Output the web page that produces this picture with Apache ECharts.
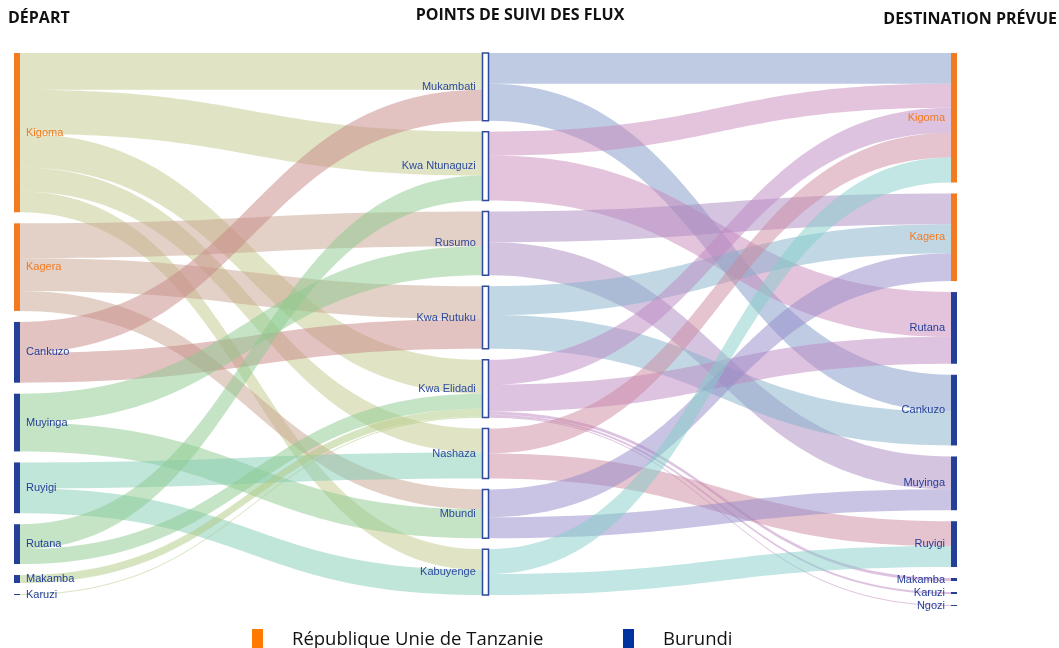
<!DOCTYPE html>
<html><head><meta charset="utf-8">
<script src="https://cdn.jsdelivr.net/npm/echarts@6/dist/echarts.min.js"></script>
<style>html,body{margin:0;padding:0;background:#fff}#c{width:1059px;height:648px}</style>
</head><body><div id="c"></div>
<script>
// ---- data ----
const departNames   = ['Kigoma','Kagera','Cankuzo','Muyinga','Ruyigi','Rutana','Makamba','Karuzi'];
const departCountry = ['TZ','TZ','BI','BI','BI','BI','BI','BI'];
const pointNames    = ['Mukambati','Kwa Ntunaguzi','Rusumo','Kwa Rutuku','Kwa Elidadi','Nashaza','Mbundi','Kabuyenge'];
const destNames     = ['Kigoma','Kagera','Rutana','Cankuzo','Muyinga','Ruyigi','Makamba','Karuzi','Ngozi'];
const destCountry   = ['TZ','TZ','BI','BI','BI','BI','BI','BI','BI'];

const departToPoint = [
  ['Kigoma','Mukambati',37],['Kigoma','Kwa Ntunaguzi',44],['Kigoma','Kwa Elidadi',34],['Kigoma','Nashaza',24],['Kigoma','Kabuyenge',21],
  ['Kagera','Rusumo',35],['Kagera','Kwa Rutuku',33],['Kagera','Mbundi',20],
  ['Cankuzo','Mukambati',31],['Cankuzo','Kwa Rutuku',30],
  ['Muyinga','Rusumo',29],['Muyinga','Mbundi',29],
  ['Ruyigi','Nashaza',26],['Ruyigi','Kabuyenge',25],
  ['Rutana','Kwa Ntunaguzi',25],['Rutana','Kwa Elidadi',15],
  ['Makamba','Kwa Elidadi',8],
  ['Karuzi','Kwa Elidadi',1]
];
const pointToDest = [
  ['Mukambati','Kigoma',31],['Mukambati','Cankuzo',37],
  ['Kwa Ntunaguzi','Kigoma',24],['Kwa Ntunaguzi','Rutana',45],
  ['Rusumo','Kagera',31],['Rusumo','Muyinga',33],
  ['Kwa Rutuku','Kagera',29],['Kwa Rutuku','Cankuzo',34],
  ['Kwa Elidadi','Kigoma',25],['Kwa Elidadi','Rutana',27],['Kwa Elidadi','Makamba',3],['Kwa Elidadi','Karuzi',2],['Kwa Elidadi','Ngozi',1],
  ['Nashaza','Kigoma',25],['Nashaza','Ruyigi',25],
  ['Mbundi','Kagera',28],['Mbundi','Muyinga',21],
  ['Kabuyenge','Kigoma',25],['Kabuyenge','Ruyigi',21]
];
const columnTitles = ['DÉPART','POINTS DE SUIVI DES FLUX','DESTINATION PRÉVUE'];
const legendLabels = ['République Unie de Tanzanie','Burundi'];

// ---- styles ----
const ORANGE = '#F47A20', BLUE = '#243F98', MIDBLUE = '#2E4A9E';
const departLinkColors = {Kigoma:'#c2c98a',Kagera:'#c7a18d',Cankuzo:'#c78585',Muyinga:'#8bc98d',Ruyigi:'#81cbb3',Rutana:'#8bc98d',Makamba:'#afc981',Karuzi:'#afc981'};
const pointLinkColors = {'Mukambati':'#7f97c7','Kwa Ntunaguzi':'#c987b9','Rusumo':'#a989c1','Kwa Rutuku':'#83b1c9','Kwa Elidadi':'#bd87c1','Nashaza':'#cb879f','Mbundi':'#9389c7','Kabuyenge':'#83cdc9'};

const FONT = '"Liberation Sans", Arial, sans-serif';
const nodes = [];
departNames.forEach((n,i)=>{
  const c = departCountry[i]==='TZ'?ORANGE:BLUE;
  nodes.push({name:'D:'+n,itemStyle:{color:c,borderWidth:0},label:{position:'right',distance:6,color:c}});
});
pointNames.forEach(n=>{
  nodes.push({name:'P:'+n,itemStyle:{color:'#ffffff',borderColor:MIDBLUE,borderWidth:1.5},label:{position:'left',distance:6,color:MIDBLUE}});
});
destNames.forEach((n,i)=>{
  const c = destCountry[i]==='TZ'?ORANGE:BLUE;
  nodes.push({name:'A:'+n,itemStyle:{color:c,borderWidth:0},label:{position:'left',distance:6,color:c}});
});
const links = [];
departToPoint.forEach(([s,t,v])=>links.push({source:'D:'+s,target:'P:'+t,value:v,lineStyle:{color:departLinkColors[s]}}));
pointToDest.forEach(([s,t,v])=>links.push({source:'P:'+s,target:'A:'+t,value:v,lineStyle:{color:pointLinkColors[s]}}));

const chart = echarts.init(document.getElementById('c'),null,{renderer:'canvas'});
chart.setOption({
  backgroundColor:'#ffffff',
  animation:false,
  series:[{
    type:'sankey',
    left:14,right:102,top:53,bottom:42,
    nodeWidth:6,nodeGap:11,
    layoutIterations:0,
    draggable:false,
    emphasis:{disabled:true},
    data:nodes,
    links:links,
    label:{fontFamily:FONT,fontSize:11,formatter:p=>p.name.slice(2)},
    lineStyle:{curveness:0.5,opacity:0.5}
  }],
  graphic:[
    {type:'text',x:8,y:18,style:{text:columnTitles[0],font:'bold 16px "Open Sans", sans-serif',fill:'#111',textVerticalAlign:'middle'}},
    {type:'text',x:520,y:15,style:{text:columnTitles[1],font:'bold 16px "Open Sans", sans-serif',fill:'#111',textAlign:'center',textVerticalAlign:'middle'}},
    {type:'text',x:1057,y:19,style:{text:columnTitles[2],font:'bold 16px "Open Sans", sans-serif',fill:'#111',textAlign:'right',textVerticalAlign:'middle'}},
    {type:'rect',shape:{x:252,y:629,width:11,height:20},style:{fill:'#FF7A00'}},
    {type:'text',x:292,y:640,style:{text:legendLabels[0],font:'18.5px "Open Sans", sans-serif',fill:'#111',textVerticalAlign:'middle'}},
    {type:'rect',shape:{x:623,y:629,width:11,height:20},style:{fill:'#0033A0'}},
    {type:'text',x:663,y:640,style:{text:legendLabels[1],font:'18.5px "Open Sans", sans-serif',fill:'#111',textVerticalAlign:'middle'}}
  ]
});
</script></body></html>
